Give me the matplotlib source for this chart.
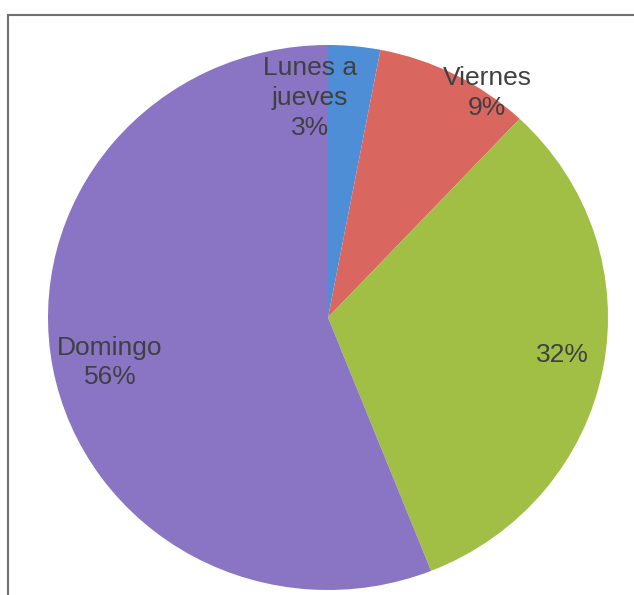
import matplotlib.pyplot as plt
from matplotlib.lines import Line2D

dias = ['Lunes a\njueves', 'Viernes', '', 'Domingo']
porcentajes = [3, 9, 32, 56]
colores = ['#4d8ed6', '#d9675f', '#a2bf45', '#8a74c4']
# where each label sits, in pie units
pos_etiquetas = [(-0.064, 0.806), (0.568, 0.824), (0.839, -0.138), (-0.779, -0.165)]

W, H = 634, 595
fig = plt.figure(figsize=(W / 100, H / 100), dpi=100)
fig.patch.set_facecolor('white')

# scanned frame: left and top sides only are visible
fig.add_artist(Line2D([8 / W, 8 / W], [0, 1 - 15 / H], color='#707070', lw=1.5))
fig.add_artist(Line2D([8 / W, 1], [1 - 15 / H, 1 - 15 / H], color='#707070', lw=1.5))

# pie is slightly squashed in the scan, so aspect stays auto
ax = fig.add_axes([48 / W, 1 - 590 / H, 560 / W, 545 / H])
ax.pie(porcentajes, colors=colores, startangle=90, counterclock=False,
       wedgeprops=dict(linewidth=0))
ax.set_aspect('auto')
ax.set_xlim(-1, 1)
ax.set_ylim(-1, 1)
ax.axis('off')

for nombre, pct, (x, y) in zip(dias, porcentajes, pos_etiquetas):
    txt = f'{nombre}\n{pct}%' if nombre else f'{pct}%'
    ax.text(x, y, txt, ha='center', va='center', fontsize=19,
            family='Liberation Sans', color='#404040', linespacing=1.3)

fig.savefig('out.png', dpi=100)
